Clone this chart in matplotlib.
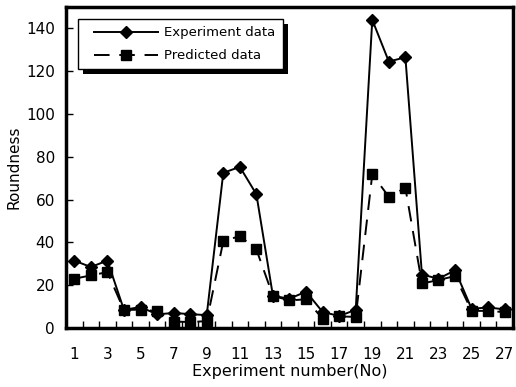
import matplotlib
matplotlib.use("Agg")
import matplotlib.pyplot as plt
from matplotlib.patches import Rectangle
from matplotlib.legend_handler import HandlerLine2D

experiments = list(range(1, 28))
experiment_data = [31.5, 28.5, 31.5, 8.5, 9.8, 6.4, 7.0, 6.5, 6.0, 72.5, 75.3, 62.5,
                   15.0, 13.7, 17.0, 7.5, 5.6, 8.5, 144.0, 124.5, 126.5, 25.0, 23.0,
                   27.0, 9.0, 9.6, 8.7]
predicted_data = [23.0, 24.6, 26.1, 8.4, 8.6, 7.9, 3.0, 2.8, 3.2, 40.5, 43.0, 36.7,
                  15.0, 12.9, 13.4, 4.3, 5.4, 5.2, 71.8, 61.3, 65.5, 20.8, 22.4,
                  24.3, 8.0, 8.0, 7.4]
xtick_labels = [str(i) for i in range(1, 28, 2)]
yticks = [0, 20, 40, 60, 80, 100, 120, 140]

plt.rcParams['font.family'] = ['DejaVu Sans']
W, H = 516, 387
fig = plt.figure(figsize=(W/100, H/100), dpi=100)
ax = fig.add_axes([66/W, 1-328/H, (513-66)/W, (328-7)/H])

ax.plot(experiments, predicted_data, color='black', lw=1.4, ls=(0, (8, 5)), marker='s', ms=7.2,
        mfc='black', mec='black', label='Predicted data', clip_on=False, zorder=3)
ax.plot(experiments, experiment_data, color='black', lw=1.4, marker='D', ms=6,
        mfc='black', mec='black', label='Experiment data', clip_on=False, zorder=3)

ax.set_xlim(0.5, 27.5)
ax.set_ylim(0, 150)

# category boundaries as tick marks
ax.set_xticks([i + 0.5 for i in range(0, 28)])
ax.set_xticklabels([])
ax.tick_params(axis='x', which='major', direction='in', length=5, width=1)
ax.set_xticks(list(range(1, 28, 2)), xtick_labels, minor=True)
ax.tick_params(axis='x', which='minor', length=0, pad=14, labelsize=11)

ax.set_yticks(yticks)
ax.tick_params(axis='y', direction='in', length=5, width=1, labelsize=11, pad=8)

for s in ax.spines.values():
    s.set_linewidth(2.5)

ax.set_xlabel('Experiment number(No)', fontsize=11.5, labelpad=1)
ax.set_ylabel('Roundness', fontsize=11, labelpad=3)

handles, labels = ax.get_legend_handles_labels()
order = [1, 0]
hmap = {h: HandlerLine2D(numpoints=1, xpad=0.7) for h in handles}
leg = ax.legend([handles[i] for i in order], [labels[i] for i in order],
                loc='upper left', bbox_to_anchor=((78-66)/447, 1-(19-7)/321),
                frameon=True, fancybox=False, shadow=False, framealpha=1,
                handler_map=hmap,
                handlelength=5.55, handletextpad=0.45, fontsize=9.5,
                borderpad=0.55, labelspacing=0.75, borderaxespad=0)
leg.get_frame().set_edgecolor('black')
leg.get_frame().set_linewidth(1.0)
leg.get_frame().set_facecolor('white')
leg.set_zorder(6)

# draw shadow behind legend, offset by 5 px
fig.canvas.draw()
bb = leg.get_window_extent()
shadow = Rectangle((bb.x0 + 5, bb.y0 - 5), bb.width, bb.height, transform=None,
                   facecolor='black', edgecolor='none', zorder=5.5)
ax.add_artist(shadow)

fig.savefig('out.png', dpi=100)
